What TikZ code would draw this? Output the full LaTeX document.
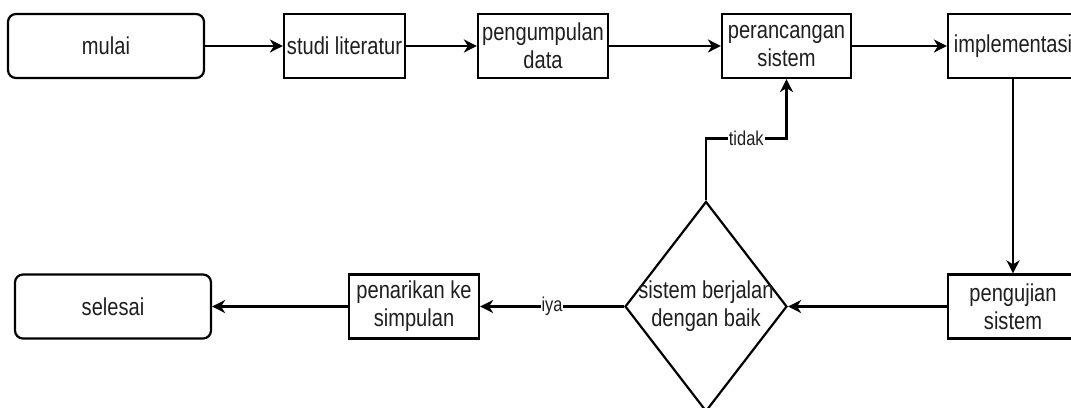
\documentclass[tikz,border=0pt]{standalone}
\usepackage{fontspec}
\setmainfont{Liberation Sans}[FakeStretch=0.82]
\usetikzlibrary{arrows.meta,shapes.geometric}
\begin{document}
\begin{tikzpicture}[x=1pt,y=-1pt,
  every node/.style={font=\fontsize{24.5}{28}\selectfont, text=black!88},
  proc/.style={draw, line width=2.2pt, inner sep=0pt, align=center},
  term/.style={proc, rounded corners=8pt},
  dec/.style={draw, line width=2.2pt, diamond, inner sep=0pt, minimum width=162pt, minimum height=210pt},
  arr/.style={line width=2.2pt, -{Stealth[length=13pt,width=13pt,inset=4pt]}},
  lbl/.style={fill=white, inner sep=1pt, font=\fontsize{20}{24}\selectfont}
]
\clip (0,0) rectangle (1071,407);
\fill[white] (0,0) rectangle (1071,407);
% top row
\node[term, minimum width=196pt, minimum height=64pt] (mulai) at (106,46) {mulai};
\node[proc, minimum width=121pt, minimum height=64pt] (studi) at (344.5,46) {studi literatur};
\node[proc, minimum width=130pt, minimum height=64pt] (data) at (543,46) {pengumpulan\\data};
\node[proc, minimum width=129pt, minimum height=64pt] (per) at (786.5,46) {perancangan\\sistem};
\node[proc, minimum width=130pt, minimum height=64pt] (impl) at (1013,46) {implementasi};
% bottom row
\node[proc, minimum width=130pt, minimum height=64pt] (uji) at (1013,306.5) {pengujian\\sistem};
\node[dec, label={[align=center]center:sistem berjalan\\dengan baik}] (dia) at (706,306.5) {};
\node[proc, minimum width=130pt, minimum height=64pt] (tarik) at (414,306.5) {penarikan ke\\simpulan};
\node[term, minimum width=196pt, minimum height=64pt] (selesai) at (113,306.5) {selesai};
% connectors
\draw[arr] (mulai) -- (studi);
\draw[arr] (studi) -- (data);
\draw[arr] (data) -- (per);
\draw[arr] (per) -- (impl);
\draw[arr] (impl) -- (uji);
\draw[arr] (uji) -- (dia);
\draw[arr] (dia) -- node[lbl]{iya} (tarik);
\draw[arr] (tarik) -- (selesai);
\draw[arr] (dia.north) -- ++(0,-62) -| node[lbl,pos=0.25]{tidak} (per.south);
\end{tikzpicture}
\end{document}
